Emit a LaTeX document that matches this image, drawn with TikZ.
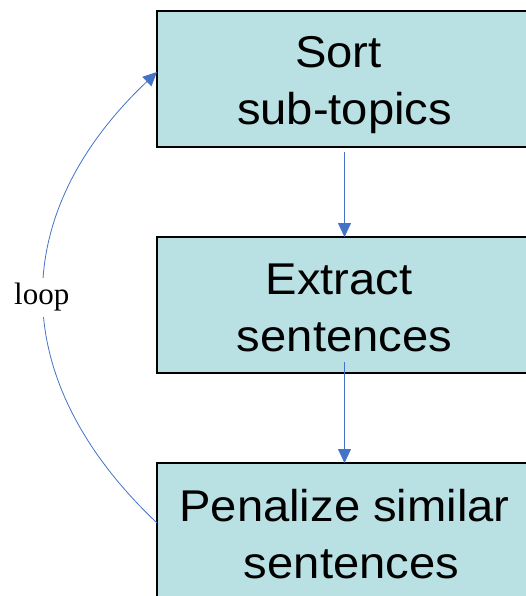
\documentclass[tikz,border=0pt]{standalone}
\usepackage{fontspec}
\setmainfont{Liberation Serif}
\newfontfamily\boxfont[FakeStretch=1.06]{Liberation Sans}
\usetikzlibrary{arrows.meta}
\definecolor{boxfill}{HTML}{B9E0E3}
\definecolor{linkblue}{HTML}{4472C4}
\begin{document}
\begin{tikzpicture}[x=1pt,y=-1pt,
  stepbox/.style={draw=black, line width=1.5pt, fill=boxfill,
    minimum width=375pt, minimum height=136pt, inner sep=0pt, outer sep=0pt},
  steptext/.style={align=center, inner sep=0pt,
    font=\boxfont\fontsize{44.5}{57}\selectfont},
  link/.style={draw=linkblue, line width=0.8pt,
    -{Triangle[length=14pt,width=13pt]}},
  looptext/.style={fill=white, inner sep=5pt, font=\fontsize{31}{36}\selectfont},
]
\useasboundingbox (0,0) rectangle (526,596);
\clip (0,0) rectangle (526,596);

% process steps (lines keep their word spaces at the ends)
\node[stepbox] (s1) at (344.5,79) {};
\node[steptext] (s1t) at (344.5,85) {Sort\hspace*{12pt}\\sub-topics};

\node[stepbox] (s2) at (344.5,305) {};
\node[steptext] (s2t) at (344.5,307.75) {Extract\hspace*{11pt}\\sentences};

\node[stepbox] (s3) at (344.5,531) {};
\node[steptext] (s3t) at (344.5,534) {Penalize similar\\\hspace*{14pt}sentences};

% forward flow
\draw[link] ([yshift=-5pt]s1.south) -- (s2.north);
\draw[link] ([yshift=11pt]s2.south) -- (s3.north);

% feedback loop
\draw[link] ([yshift=8pt]s3.west)
  .. controls (6,380) and (6,215) ..
  node[looptext, pos=0.5, xshift=-2pt] (looplbl) {loop}
  ([yshift=7pt]s1.west);
\end{tikzpicture}
\end{document}
